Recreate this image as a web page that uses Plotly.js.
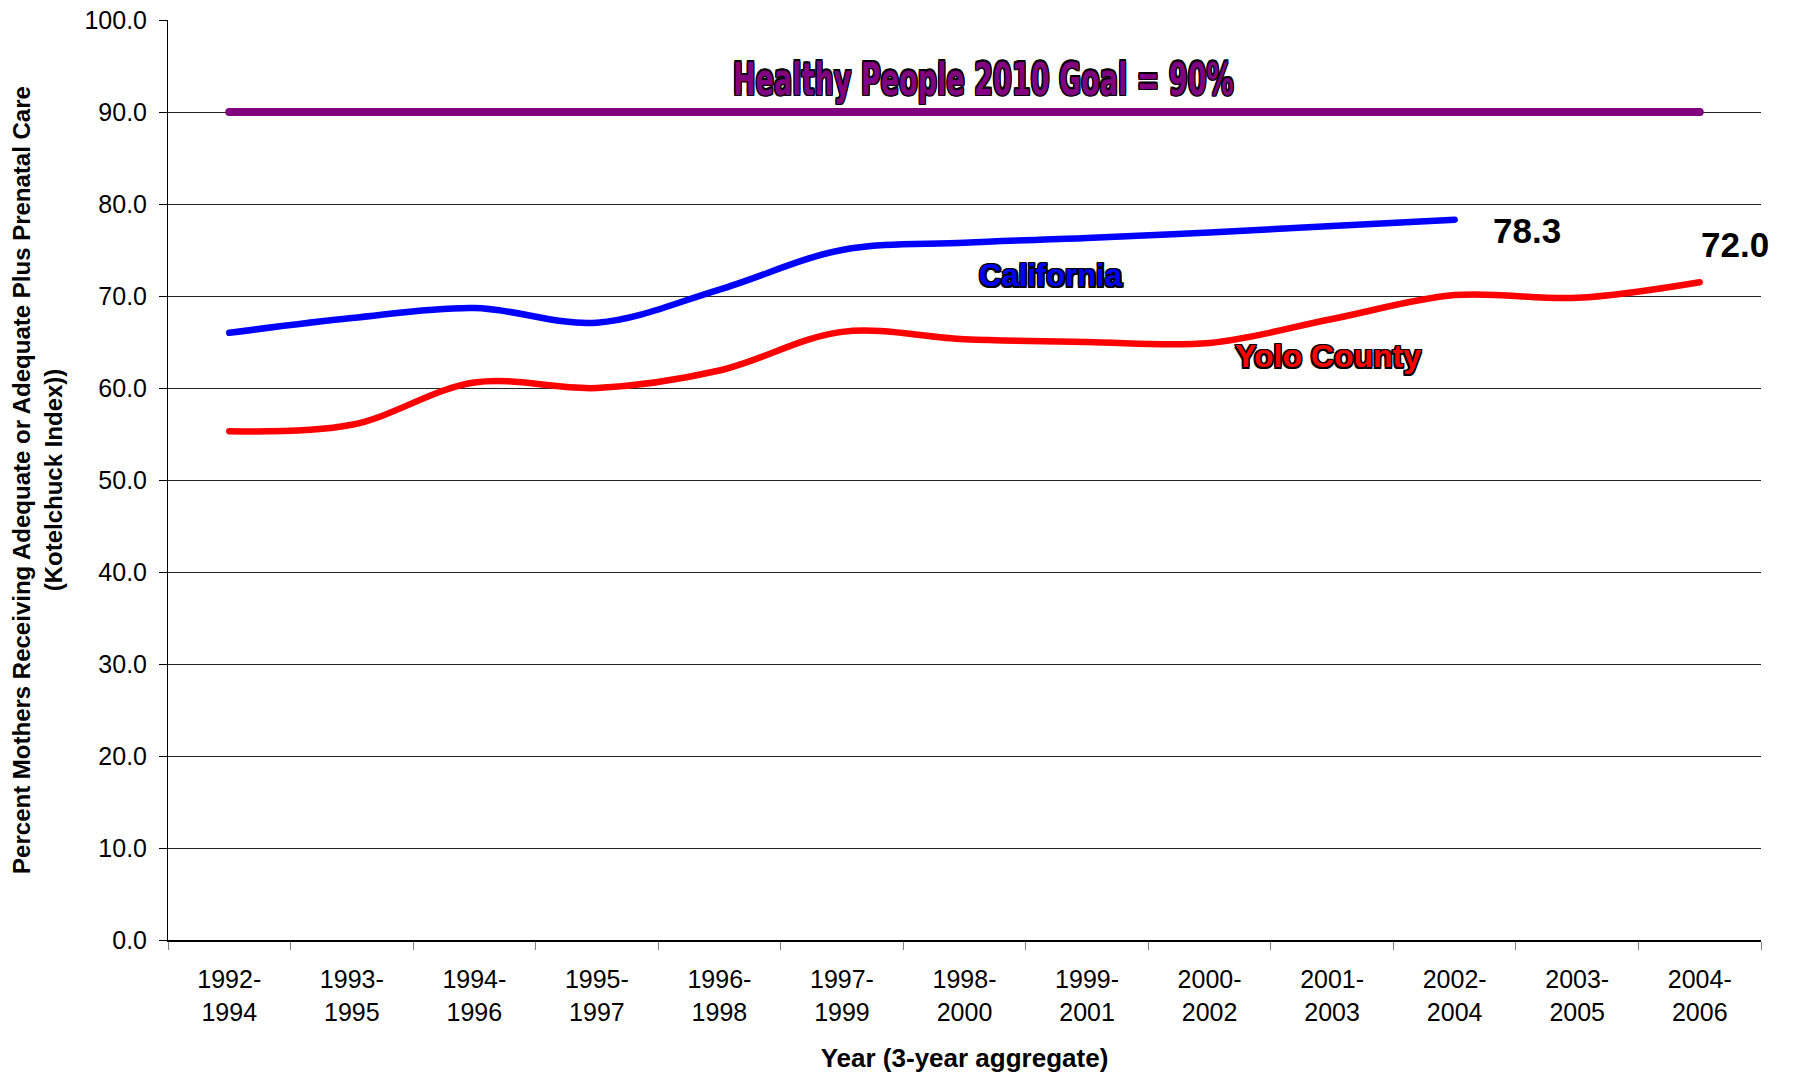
<!DOCTYPE html>
<html>
<head>
<meta charset="utf-8">
<script src="https://cdn.plot.ly/plotly-3.0.1.min.js"></script>
<style>
html,body{margin:0;padding:0;background:#fff;}
.scatterlayer .js-line{stroke-linecap:round;}
</style>
</head>
<body>
<div id="chart" style="width:1795px;height:1074px;"></div>
<script>
// ---- data ----
const periods = ['1992-1994','1993-1995','1994-1996','1995-1997','1996-1998','1997-1999','1998-2000','1999-2001','2000-2002','2001-2003','2002-2004','2003-2005','2004-2006'];
const california = [66.0, 67.6, 68.7, 67.1, 70.7, 75.0, 75.8, 76.3, 76.9, 77.6, 78.3];
const yolo = [55.3, 56.0, 60.6, 60.0, 61.9, 66.1, 65.3, 65.0, 64.9, 67.5, 70.1, 69.8, 71.5];
const goal = [90, 90, 90, 90, 90, 90, 90, 90, 90, 90, 90, 90, 90];
const endLabels = ['78.3', '72.0'];
const tickLabels = periods.map(p => p.replace('-', '-<br>'));
const yTicks = [0,10,20,30,40,50,60,70,80,90,100];

const F = 'Liberation Sans, Arial, sans-serif';
const outline = '-1.5px -1.5px 0 #000, 1.5px -1.5px 0 #000, -1.5px 1.5px 0 #000, 1.5px 1.5px 0 #000, 0 1.5px 0 #000, 0 -1.5px 0 #000, 1.5px 0 0 #000, -1.5px 0 0 #000';

const traces = [
  {x: periods, y: goal, type: 'scatter', mode: 'lines', name: 'Goal',
   line: {color: '#800080', width: 8}, hoverinfo: 'skip'},
  {x: periods.slice(0, california.length), y: california, type: 'scatter', mode: 'lines', name: 'California',
   line: {color: '#0000FF', width: 6.5, shape: 'spline', smoothing: 1}},
  {x: periods, y: yolo, type: 'scatter', mode: 'lines', name: 'Yolo County',
   line: {color: '#FF0000', width: 6.5, shape: 'spline', smoothing: 1}}
];

const L = 168, R = 1761, T = 20, B = 940;
const px = v => (v - L) / (R - L);
const py = v => (B - v) / (B - T);

const layout = {
  width: 1795, height: 1074,
  margin: {l: L, r: 1795 - R, t: T, b: 1074 - B, pad: 0},
  paper_bgcolor: '#fff', plot_bgcolor: '#fff',
  showlegend: false,
  font: {family: F, color: '#000'},
  xaxis: {
    type: 'category',
    range: [-0.5, 12.5],
    tickvals: periods, ticktext: tickLabels,
    tickson: 'boundaries',
    ticks: 'outside', ticklen: 8, tickcolor: '#808080', tickwidth: 1,
    showline: true, linecolor: '#000', linewidth: 2,
    showgrid: false, zeroline: false,
    tickfont: {size: 25, family: F},
    ticklabelstandoff: 16,
    title: {text: '<b>Year (3-year aggregate)</b>', font: {size: 26, family: F}, standoff: 24}
  },
  yaxis: {
    range: [0, 100],
    tickvals: yTicks, tickformat: '.1f',
    ticks: 'outside', ticklen: 8, tickcolor: '#000', tickwidth: 1,
    showline: true, linecolor: '#000', linewidth: 1,
    showgrid: true, gridcolor: '#222', gridwidth: 1,
    zeroline: false,
    tickfont: {size: 25, family: F},
    ticklabelstandoff: 7,
    title: {text: '<b>Percent Mothers Receiving Adequate or Adequate Plus Prenatal Care<br>(Kotelchuck Index))</b>', font: {size: 24, family: F}, standoff: 15}
  },
  annotations: [
    {xref: 'paper', yref: 'paper', x: px(983), y: py(79), xanchor: 'center', yanchor: 'middle',
     text: '<b>Healthy People 2010 Goal = 90%</b>', showarrow: false,
     font: {family: 'DejaVu Sans, sans-serif', size: 42, color: '#800080', shadow: outline}},
    {xref: 'paper', yref: 'paper', x: px(1051), y: py(275), xanchor: 'center', yanchor: 'middle',
     text: '<b>California</b>', showarrow: false,
     font: {family: F, size: 31, color: '#0000FF', shadow: outline}},
    {xref: 'paper', yref: 'paper', x: px(1328), y: py(356), xanchor: 'center', yanchor: 'middle',
     text: '<b>Yolo County</b>', showarrow: false,
     font: {family: F, size: 32, color: '#FF0000', shadow: outline}},
    {xref: 'paper', yref: 'paper', x: px(1527), y: py(231), xanchor: 'center', yanchor: 'middle',
     text: '<b>' + endLabels[0] + '</b>', showarrow: false,
     font: {family: F, size: 35, color: '#000'}},
    {xref: 'paper', yref: 'paper', x: px(1735), y: py(244), xanchor: 'center', yanchor: 'middle',
     text: '<b>' + endLabels[1] + '</b>', showarrow: false,
     font: {family: F, size: 35, color: '#000'}}
  ]
};

Plotly.newPlot('chart', traces, layout, {displayModeBar: false, staticPlot: true}).then(gd => {
  // condense the goal caption horizontally, like the original's narrow display font
  const ann = gd.querySelectorAll('.annotation')[0];
  if (ann) {
    const t = ann.querySelector('text.annotation-text');
    if (t) {
      t.style.transformBox = 'fill-box';
      t.style.transformOrigin = '50% 50%';
      t.style.transform = 'scale(0.645, 1.04)';
    }
  }
});
</script>
</body>
</html>
